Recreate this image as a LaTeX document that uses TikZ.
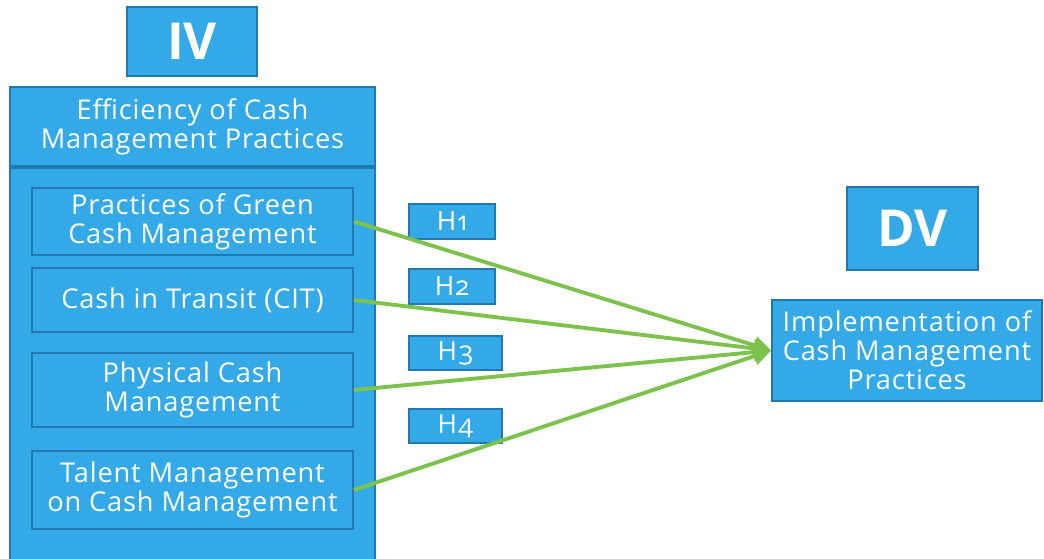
\documentclass[tikz,border=0pt]{standalone}
\usepackage{fontspec}
\setmainfont{Open Sans}
\newfontfamily\wideFont[LetterSpace=3]{Open Sans}
\newfontfamily\hypFont[LetterSpace=5, Numbers=OldStyle]{Open Sans}
\usetikzlibrary{arrows.meta}
\definecolor{boxblue}{HTML}{33A9E8}
\definecolor{edgeblue}{HTML}{2378B0}
\definecolor{linkgreen}{HTML}{7DC24D}
\newcommand{\boxFont}[0]{\wideFont\fontsize{15.5}{16.6}\selectfont}

\begin{document}
\begin{tikzpicture}[x=0.02cm, y=-0.02cm]
  \tikzset{
    varbox/.style={draw=edgeblue, line width=1pt, fill=boxblue, text=white,
      align=center, inner sep=0pt, font=\boxFont},
    tagbox/.style={varbox, font=\fontsize{29}{32}\selectfont\bfseries},
    hypbox/.style={varbox, font=\hypFont\fontsize{15}{16}\selectfont},
    link/.style={draw=linkgreen, line width=2.2pt, -{Triangle[length=10pt, width=10pt]}}
  }
  \useasboundingbox (0,0) rectangle (1044,558);
  % IV side
  \node[tagbox, minimum width=130*0.02cm, minimum height=69*0.02cm] (iv) at (192,41.5) {IV};
  \node[varbox, minimum width=365*0.02cm, minimum height=79*0.02cm] (eff) at (192.5,126.5)
    {Efficiency of Cash\\Management Practices};
  \draw[draw=edgeblue, line width=1pt, fill=boxblue] (10,168) rectangle (375,570);
  \node[varbox, minimum width=321*0.02cm, minimum height=67*0.02cm] (green) at (192.5,221.5)
    {Practices of Green\\Cash Management};
  \node[varbox, minimum width=321*0.02cm, minimum height=64*0.02cm] (cit) at (192.5,300)
    {Cash in Transit (CIT)};
  \node[varbox, minimum width=321*0.02cm, minimum height=74*0.02cm] (phys) at (192.5,390)
    {Physical Cash\\Management};
  \node[varbox, minimum width=321*0.02cm, minimum height=78*0.02cm] (talent) at (192.5,490)
    {Talent Management\\on Cash Management};
  % hypotheses
  \node[hypbox, minimum width=86*0.02cm, minimum height=35*0.02cm] (h1) at (452,221.5) {H1};
  \node[hypbox, minimum width=86*0.02cm, minimum height=35*0.02cm] (h2) at (452,286.5) {H2};
  \node[hypbox, minimum width=93*0.02cm, minimum height=34*0.02cm] (h3) at (455.5,353) {H3};
  \node[hypbox, minimum width=93*0.02cm, minimum height=34*0.02cm] (h4) at (455.5,426) {H4};
  % DV side
  \node[tagbox, minimum width=131*0.02cm, minimum height=83*0.02cm] (dv) at (912.5,228.5) {DV};
  \node[varbox, minimum width=270*0.02cm, minimum height=101*0.02cm] (impl) at (907,350.5)
    {Implementation of\\Cash Management\\Practices};
  \coordinate (target) at (impl.west);
  \draw[link] (green.east) -- (target);
  \draw[link] (cit.east) -- (target);
  \draw[link] (phys.east) -- (target);
  \draw[link] (talent.east) -- (target);
\end{tikzpicture}
\end{document}
